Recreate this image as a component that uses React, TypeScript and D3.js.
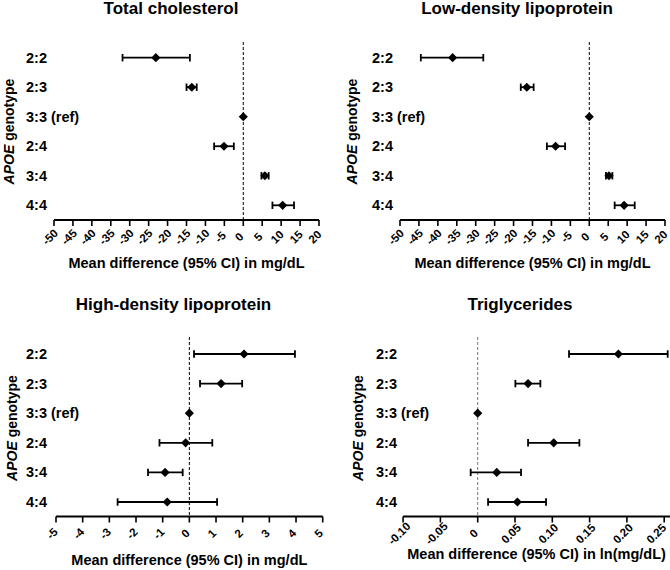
import React from "react";
import * as d3 from "d3";

const genotypes = ["2:2", "2:3", "3:3 (ref)", "2:4", "3:4", "4:4"];

const tcMean = [-23.1, -13.6, 0, -5.1, 5.7, 10.4];
const tcLow = [-31.9, -15.0, 0, -7.7, 4.8, 7.7];
const tcHigh = [-14.1, -12.3, 0, -2.5, 6.7, 13.4];

const ldlMean = [-36.1, -16.5, 0, -8.9, 5.2, 9.2];
const ldlLow = [-44.5, -18.1, 0, -11.2, 4.4, 6.7];
const ldlHigh = [-28.0, -14.7, 0, -6.4, 6.1, 12.0];

const hdlMean = [2.05, 1.19, 0, -0.14, -0.91, -0.83];
const hdlLow = [0.175, 0.4, 0, -1.12, -1.55, -2.69];
const hdlHigh = [3.96, 1.98, 0, 0.86, -0.25, 1.04];

const tgMean = [0.1886, 0.0675, 0, 0.1019, 0.0255, 0.0532];
const tgLow = [0.1224, 0.0505, 0, 0.0675, -0.0094, 0.0139];
const tgHigh = [0.2547, 0.084, 0, 0.1363, 0.0581, 0.0916];

const mgTicks = [-50, -45, -40, -35, -30, -25, -20, -15, -10, -5, 0, 5, 10, 15, 20];
const hdlTicks = [-5, -4, -3, -2, -1, 0, 1, 2, 3, 4, 5];
const tgTicks = [-0.1, -0.05, 0, 0.05, 0.1, 0.15, 0.2, 0.25];
const tgTickLabels = ["-0.10", "-0.05", "0", "0.05", "0.10", "0.15", "0.20", "0.25"];

const titles = ["Total cholesterol", "Low-density lipoprotein", "High-density lipoprotein", "Triglycerides"];
const xTitles = [
  "Mean difference (95% CI) in mg/dL",
  "Mean difference (95% CI) in mg/dL",
  "Mean difference (95% CI) in mg/dL",
  "Mean difference (95% CI) in ln(mg/dL)",
];

const FONT = "'Liberation Sans', Arial, Helvetica, sans-serif";
const W = 670;
const H = 570;
const TICK_FS = 11.5;

type PanelProps = {
  title: string;
  xTitle: string;
  mean: number[];
  low: number[];
  high: number[];
  domain: [number, number];
  range: [number, number];
  axisEnd?: number;
  ticks: number[];
  tickLabels: string[];
  rowRange: [number, number];
  axisY: number;
  dashTop: number;
  titleX: number;
  titleY: number;
  xTitleY: number;
  labelX: number;
  yTitleX: number;
  refColor: string;
};

function Panel(p: PanelProps) {
  const x = d3.scaleLinear().domain(p.domain).range(p.range);
  const y = d3.scalePoint<string>().domain(genotypes).range(p.rowRange);
  const diamond = d3.symbol().type(d3.symbolSquare).size(42)() || "";
  const x0 = x(0);
  const axisStart = p.range[0];
  const axisEnd = p.axisEnd ?? p.range[1];
  const plotCenter = (p.range[0] + axisEnd) / 2;
  const yCenter = (p.rowRange[0] + p.rowRange[1]) / 2;
  return (
    <g fontFamily={FONT} fontWeight="bold" fill="#000">
      <text x={p.titleX} y={p.titleY} fontSize={17} textAnchor="middle">
        {p.title}
      </text>
      {genotypes.map((g) => (
        <text key={g} x={p.labelX} y={(y(g) ?? 0) + 5} fontSize={14.5}>
          {g}
        </text>
      ))}
      <text
        transform={`translate(${p.yTitleX},${yCenter}) rotate(-90)`}
        fontSize={14}
        textAnchor="middle"
        dy="0.35em"
      >
        <tspan fontStyle="italic">APOE</tspan> genotype
      </text>
      <line
        x1={x0}
        x2={x0}
        y1={p.dashTop}
        y2={p.axisY}
        stroke={p.refColor}
        strokeWidth={1}
        strokeDasharray="3,2"
      />
      <line x1={axisStart} x2={axisEnd} y1={p.axisY} y2={p.axisY} stroke="#000" strokeWidth={2} />
      {p.ticks.map((t, i) => {
        const label = p.tickLabels[i];
        const approxLen = label.length * 0.6 * TICK_FS;
        const half = (0.707 * (approxLen + 0.72 * TICK_FS)) / 2;
        const cx = Math.min(x(t) - 4, W - 1 - half);
        return (
          <g key={i}>
            <line x1={x(t)} x2={x(t)} y1={p.axisY} y2={p.axisY + 6} stroke="#000" strokeWidth={1.6} />
            <text
              transform={`translate(${cx},${p.axisY + 17}) rotate(-45)`}
              fontSize={TICK_FS}
              textAnchor="middle"
              dy="0.35em"
            >
              {label}
            </text>
          </g>
        );
      })}
      <text x={plotCenter} y={p.xTitleY} fontSize={14.5} textAnchor="middle">
        {p.xTitle}
      </text>
      {genotypes.map((g, i) => {
        const cy = y(g) ?? 0;
        const hasCI = p.high[i] !== p.low[i];
        return (
          <g key={g}>
            {hasCI && (
              <g stroke="#000" strokeWidth={1.8}>
                <line x1={x(p.low[i])} x2={x(p.high[i])} y1={cy} y2={cy} />
                <line x1={x(p.low[i])} x2={x(p.low[i])} y1={cy - 3.7} y2={cy + 3.7} />
                <line x1={x(p.high[i])} x2={x(p.high[i])} y1={cy - 3.7} y2={cy + 3.7} />
              </g>
            )}
            <path d={diamond} transform={`translate(${x(p.mean[i])},${cy}) rotate(45)`} fill="#000" />
          </g>
        );
      })}
    </g>
  );
}

export default function App() {
  return (
    <svg width={W} height={H} style={{ position: "absolute", left: 0, top: 0, background: "#fff" }}>
      <rect width={W} height={H} fill="#fff" />
      <Panel
        title={titles[0]}
        xTitle={xTitles[0]}
        mean={tcMean}
        low={tcLow}
        high={tcHigh}
        domain={[-50, 20]}
        range={[54, 319]}
        ticks={mgTicks}
        tickLabels={mgTicks.map(String)}
        rowRange={[57.7, 205.3]}
        axisY={220}
        dashTop={42}
        titleX={171}
        titleY={14}
        xTitleY={268}
        labelX={26}
        yTitleX={9.5}
        refColor="#000"
      />
      <Panel
        title={titles[1]}
        xTitle={xTitles[1]}
        mean={ldlMean}
        low={ldlLow}
        high={ldlHigh}
        domain={[-50, 20]}
        range={[400, 665]}
        ticks={mgTicks}
        tickLabels={mgTicks.map(String)}
        rowRange={[57.7, 205.3]}
        axisY={220}
        dashTop={42}
        titleX={517}
        titleY={14}
        xTitleY={268}
        labelX={372}
        yTitleX={352}
        refColor="#000"
      />
      <Panel
        title={titles[2]}
        xTitle={xTitles[2]}
        mean={hdlMean}
        low={hdlLow}
        high={hdlHigh}
        domain={[-5, 5]}
        range={[56, 322.7]}
        ticks={hdlTicks}
        tickLabels={hdlTicks.map(String)}
        rowRange={[354, 502]}
        axisY={516.5}
        dashTop={337}
        titleX={173.5}
        titleY={310}
        xTitleY={565}
        labelX={26}
        yTitleX={12}
        refColor="#000"
      />
      <Panel
        title={titles[3]}
        xTitle={xTitles[3]}
        mean={tgMean}
        low={tgLow}
        high={tgHigh}
        domain={[-0.1, 0.25]}
        range={[403.1, 664.2]}
        axisEnd={670}
        ticks={tgTicks}
        tickLabels={tgTickLabels}
        rowRange={[354, 502]}
        axisY={516.5}
        dashTop={337}
        titleX={520}
        titleY={310}
        xTitleY={559}
        labelX={376}
        yTitleX={358}
        refColor="#777"
      />
    </svg>
  );
}
